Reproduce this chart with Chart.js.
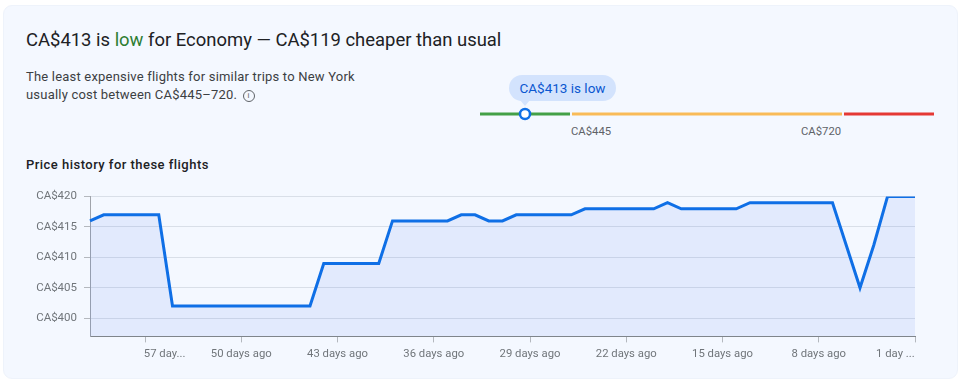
<!DOCTYPE html>
<html>
<head>
<meta charset="utf-8">
<title>Price history</title>
<script src="https://cdn.jsdelivr.net/npm/chart.js@4"></script>
<style>
html, body { margin: 0; padding: 0; background: #fff; }
body { width: 960px; height: 380px; position: relative; overflow: hidden; font-family: Roboto, sans-serif; }
.card { position: absolute; left: 3px; top: 5px; width: 953px; height: 372px; background: #f4f8ff; border: 1px solid #eef3fb; border-radius: 9px; }
.abs { position: absolute; white-space: nowrap; }
.title { left: 26px; top: 29px; font-size: 18.45px; line-height: 22px; color: #202124; }
.title b { font-weight: 400; color: #2e7d32; }
.desc { left: 26px; top: 68px; font-size: 13px; letter-spacing: 0.2px; line-height: 18px; color: #3c4043; }
.info { display: inline-block; width: 10px; height: 10px; margin-left: 2px; border: 1px solid #5f6368; border-radius: 50%; font-size: 8px; letter-spacing: 0; line-height: 10px; text-align: center; color: #5f6368; vertical-align: 1px; }
.sub { left: 26px; top: 157px; font-size: 13px; letter-spacing: 0.47px; line-height: 16px; font-weight: 500; color: #202124; }
.bubble { left: 509px; top: 75px; width: 107px; height: 26px; line-height: 26px; text-align: center; font-size: 13.5px; color: #0b57d0; background: #d3e3fd; border-radius: 13px; }
.bubble:after { content: ""; position: absolute; left: 11px; top: 25px; border-left: 5px solid transparent; border-right: 5px solid transparent; border-top: 6px solid #d3e3fd; }
.rangeLabel { top: 125px; font-size: 11.3px; line-height: 13px; color: #5f6368; }
canvas { position: absolute; display: block; }
</style>
</head>
<body>
<div class="card"></div>
<div class="abs title">CA$413 is <b>low</b> for Economy — CA$119 cheaper than usual</div>
<div class="abs desc">The least expensive flights for similar trips to New York<br>usually cost between CA$445–720. <span class="info">i</span></div>
<div class="abs sub">Price history for these flights</div>
<div class="abs bubble">CA$413 is low</div>
<div class="abs rangeLabel" style="left:571px">CA$445</div>
<div class="abs rangeLabel" style="left:801px">CA$720</div>
<canvas id="rangeChart" width="480" height="30" style="left:480px;top:99px"></canvas>
<canvas id="priceChart" width="960" height="190" style="left:0;top:180px"></canvas>
<script>
// days before today, one point per day
var daysAgo = [61, 60, 59, 58, 57, 56, 55, 54, 53, 52, 51, 50, 49, 48, 47, 46, 45, 44, 43, 42,
    41, 40, 39, 38, 37, 36, 35, 34, 33, 32, 31, 30, 29, 28, 27, 26, 25, 24, 23, 22,
    21, 20, 19, 18, 17, 16, 15, 14, 13, 12, 11, 10, 9, 8, 7, 6, 5, 4, 3, 2, 1];
var prices = [416, 417, 417, 417, 417, 417, 402, 402, 402, 402, 402, 402, 402, 402, 402, 402, 402, 409, 409, 409,
    409, 409, 416, 416, 416, 416, 416, 417, 417, 416, 416, 417, 417, 417, 417, 417, 418, 418, 418, 418,
    418, 418, 419, 418, 418, 418, 418, 418, 419, 419, 419, 419, 419, 419, 419, 412, 405, 412, 420, 420, 420];
var yTickValues = [400, 405, 410, 415, 420];
var xTickDays = [57, 50, 43, 36, 29, 22, 15, 8, 1];
var xTickLabels = ['57 day...', '50 days ago', '43 days ago', '36 days ago', '29 days ago', '22 days ago', '15 days ago', '8 days ago', '1 day ...'];

// price bar under the bubble, the picture's track is not to scale so these are read off its position
var greenRange = [353, 444];
var amberRange = [446, 719];
var redRange = [721, 812];
var markerPos = 398.5;

var pad = '\u00a0'.repeat(14);

var priceCtx = document.getElementById('priceChart').getContext('2d');
var priceChart = new Chart(priceCtx, {
    type: 'line',
    data: {
        labels: daysAgo,
        datasets: [{
            data: prices,
            borderColor: '#0f6fe6',
            borderWidth: 3,
            backgroundColor: 'rgba(40,105,235,0.09)',
            fill: 'start',
            tension: 0,
            pointRadius: 0,
            borderJoinStyle: 'miter'
        }]
    },
    options: {
        responsive: false,
        animation: false,
        layout: { padding: { top: 16.6, right: 45 } },
        plugins: { legend: { display: false }, tooltip: { enabled: false } },
        scales: {
            x: {
                afterFit: function (scale) { scale.height = 33.6; },
                border: { color: '#80868b' },
                grid: { drawOnChartArea: false, tickLength: 6, tickColor: '#b4b8be' },
                ticks: {
                    autoSkip: false,
                    maxRotation: 0,
                    padding: 5,
                    color: '#70757a',
                    font: { family: 'Roboto', size: 11.3 },
                    callback: function (value, index) {
                        var i = xTickDays.indexOf(daysAgo[index]);
                        if (i < 0) return null;
                        // these two sit beside their tick, not centred on it
                        if (daysAgo[index] == 57) return pad + xTickLabels[i];
                        if (daysAgo[index] == 1) return xTickLabels[i] + pad;
                        return xTickLabels[i];
                    }
                }
            },
            y: {
                min: 397,
                max: 420,
                afterFit: function (scale) { scale.width = 90; },
                afterBuildTicks: function (scale) {
                    scale.ticks = yTickValues.map(function (v) { return { value: v }; });
                },
                border: { color: '#a0a4ab', width: 1 },
                grid: { color: '#d9dfe8', tickLength: 6, tickColor: '#b4b8be' },
                ticks: {
                    padding: 7,
                    color: '#70757a',
                    font: { family: 'Roboto', size: 11.5 },
                    callback: function (value) { return 'CA$' + value; }
                }
            }
        }
    }
});

function trackLine(range, color) {
    return {
        data: [{ x: range[0], y: 1 }, { x: range[1], y: 1 }],
        borderColor: color,
        borderWidth: 3,
        pointRadius: 0,
        clip: false
    };
}

var rangeCtx = document.getElementById('rangeChart').getContext('2d');
var rangeChart = new Chart(rangeCtx, {
    type: 'line',
    data: {
        datasets: [
            {
                data: [{ x: markerPos, y: 1 }],
                pointRadius: 5,
                pointBackgroundColor: '#ffffff',
                pointBorderColor: '#0f6fe6',
                pointBorderWidth: 2.5,
                showLine: false,
                clip: false
            },
            trackLine(greenRange, '#43a047'),
            trackLine(amberRange, '#f9bb58'),
            trackLine(redRange, '#e53935')
        ]
    },
    options: {
        responsive: false,
        animation: false,
        layout: { autoPadding: false, padding: { right: 26 } },
        plugins: { legend: { display: false }, tooltip: { enabled: false } },
        scales: {
            x: { type: 'linear', display: false, min: greenRange[0], max: redRange[1] },
            y: { display: false, min: 0, max: 2 }
        }
    }
});
</script>
</body>
</html>
